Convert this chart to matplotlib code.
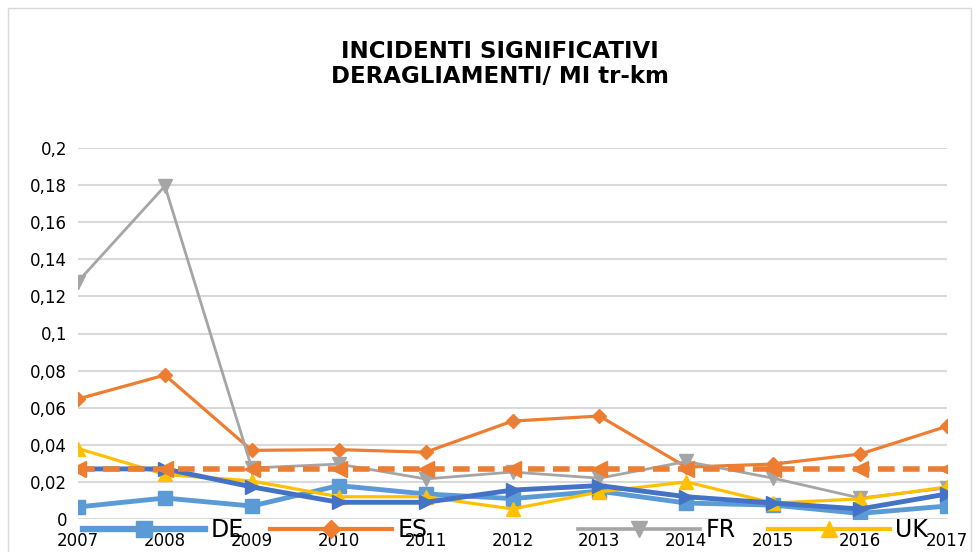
import matplotlib.pyplot as plt
from matplotlib.patches import Rectangle
from matplotlib.lines import Line2D

years = [2007, 2008, 2009, 2010, 2011, 2012, 2013, 2014, 2015, 2016, 2017]
de = [0.0065, 0.0113, 0.007, 0.018, 0.0135, 0.011, 0.015, 0.0086, 0.0075, 0.003, 0.007]
es = [0.0647, 0.0776, 0.037, 0.0374, 0.036, 0.0528, 0.0555, 0.028, 0.0296, 0.035, 0.050]
fr = [0.128, 0.1795, 0.0275, 0.0296, 0.0216, 0.0253, 0.022, 0.031, 0.022, 0.0113, 0.0167]
uk = [0.038, 0.024, 0.0205, 0.012, 0.012, 0.0054, 0.0146, 0.020, 0.0086, 0.0108, 0.0173]
eu = [0.027, 0.027, 0.0173, 0.009, 0.009, 0.0156, 0.018, 0.012, 0.0086, 0.0054, 0.0135]
ref = [0.0267] * len(years)
y_ticks = [0, 0.02, 0.04, 0.06, 0.08, 0.1, 0.12, 0.14, 0.16, 0.18, 0.2]
y_labels = ['0', '0,02', '0,04', '0,06', '0,08', '0,1', '0,12', '0,14', '0,16', '0,18', '0,2']

fig = plt.figure(figsize=(9.79, 5.52), dpi=100)
fig.patches.append(Rectangle((8 / 979, -0.05), 963 / 979, 1 - 8 / 552 + 0.05,
                             transform=fig.transFigure, fill=False,
                             edgecolor='#D9D9D9', linewidth=1))
ax = fig.add_axes([78 / 979, 1 - 519 / 552, (947 - 78) / 979, (519 - 148) / 552])

ax.plot(years, de, color='#5B9BD5', lw=3.5, marker='s', ms=10, label='DE', zorder=3)
ax.plot(years, es, color='#ED7D31', lw=2.3, marker='D', ms=7, label='ES', zorder=3)
ax.plot(years, fr, color='#A5A5A5', lw=2, marker='v', ms=10, label='FR', zorder=3)
ax.plot(years, uk, color='#FFC000', lw=2.3, marker='^', ms=10, label='UK', zorder=3)
ax.plot(years, eu, color='#4472C4', lw=3.5, marker='>', ms=10, zorder=4)
ax.plot(years, ref, color='#ED7D31', lw=4, ls=(0, (3, 1.5)), marker='<', ms=11, zorder=5)

ax.set_xlim(2007, 2017)
ax.set_ylim(0, 0.2)
ax.set_yticks(y_ticks)
ax.set_yticklabels(y_labels, fontsize=12)
ax.set_xticks(years)
ax.set_xticklabels([str(y) for y in years], fontsize=12)
ax.tick_params(length=0, pad=8)
ax.tick_params(axis='x', pad=9)
ax.grid(axis='y', color='#D9D9D9', lw=1.5)
ax.set_axisbelow(True)
for s in ax.spines.values():
    s.set_visible(False)

fig.text(500 / 979, 1 - 64 / 552, 'INCIDENTI SIGNIFICATIVI\nDERAGLIAMENTI/ MI tr-km',
         ha='center', va='center', fontsize=16.5, fontweight='bold', linespacing=1.15)

# legend entries placed one by one at the bottom
entries = [('DE', '#5B9BD5', 's', 3.5, 11, 85), ('ES', '#ED7D31', 'D', 2.3, 9, 272),
           ('FR', '#A5A5A5', 'v', 2, 11, 580), ('UK', '#FFC000', '^', 2.3, 11, 770)]
for name, col, mk, lw, ms, x0 in entries:
    h = Line2D([], [], color=col, lw=lw * 1.3, marker=mk, ms=ms)
    fig.legend([h], [name], loc='center left',
               bbox_to_anchor=(x0 / 979 - 0.012, 1 - 530 / 552),
               frameon=False, fontsize=17, handlelength=5.2,
               handletextpad=0.2, borderaxespad=0)

fig.savefig('out.png', dpi=100)
